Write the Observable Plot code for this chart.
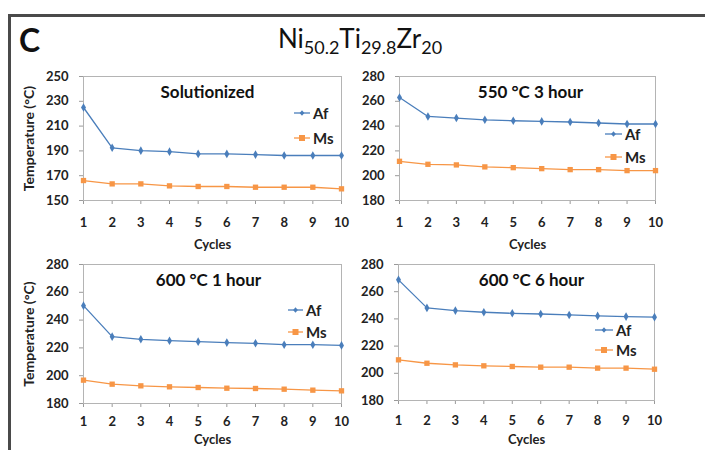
<!DOCTYPE html>
<html>
<head>
<meta charset="utf-8">
<script src="https://cdn.jsdelivr.net/npm/d3@7"></script>
<script src="https://cdn.jsdelivr.net/npm/@observablehq/plot@0.6"></script>
<style>
  html, body { margin: 0; padding: 0; background: #fff; }
  #page { position: relative; width: 705px; height: 450px; overflow: hidden; background: #fff; font-family: Lato, "Open Sans", sans-serif; }
  .border { position: absolute; left: 8px; top: 14px; width: 720px; height: 460px; border-left: 3px solid #4a4a4a; border-top: 3px solid #4a4a4a; }
  .letter { position: absolute; left: 19px; top: 20px; font-size: 32px; font-weight: bold; color: #111; }
  .title { position: absolute; left: 0; width: 720px; top: 22px; text-align: center; font-size: 26px; color: #111; font-family: Lato, sans-serif; }
  .title sub { font-size: 18px; vertical-align: -6px; line-height: 0; }
  .panel { position: absolute; }
  .legend { position: absolute; font-size: 15px; font-weight: bold; color: #222; display: flex; align-items: center; line-height: 1; }
  .legend svg { margin-right: 3px; }
  svg [aria-label="x-axis tick"] path, svg [aria-label="y-axis tick"] path,
  svg [aria-label="x-axis"] .tick line, svg [aria-label="y-axis"] .tick line { stroke: #9a9a9a; }
  svg [aria-label="y-axis label"] text { font-size: 14px; }
</style>
</head>
<body>
<div id="page">
  <div class="border"></div>
  <div class="letter">C</div>
  <div class="title">Ni<sub>50.2</sub>Ti<sub>29.8</sub>Zr<sub>20</sub></div>
</div>
<script>
const cycles = [1, 2, 3, 4, 5, 6, 7, 8, 9, 10];
const seriesNames = ["Af", "Ms"];
const seriesColors = ["#4a7ebb", "#f79646"];

const solutionizedAf = [225, 192.5, 190.2, 189.4, 187.6, 187.6, 187.0, 186.3, 186.3, 186.3];
const solutionizedMs = [166.1, 163.4, 163.4, 161.8, 161.3, 161.3, 160.7, 160.7, 160.7, 159.4];
const h550_3Af = [263.1, 247.8, 246.5, 245.1, 244.3, 243.8, 243.3, 242.5, 241.7, 241.7];
const h550_3Ms = [211.6, 209.2, 208.7, 207.1, 206.5, 205.7, 204.9, 204.9, 204.1, 204.1];
const h600_1Af = [250.4, 228.1, 226.2, 225.2, 224.5, 223.8, 223.3, 222.3, 222.3, 221.8];
const h600_1Ms = [196.8, 193.9, 192.7, 192.0, 191.5, 191.0, 190.8, 190.3, 189.6, 189.1];
const h600_6Af = [268.7, 248.1, 246.1, 244.9, 244.1, 243.6, 242.9, 242.2, 241.7, 241.3];
const h600_6Ms = [209.9, 207.4, 206.2, 205.5, 205.0, 204.5, 204.5, 203.8, 203.8, 203.0];

const panelTitles = ["Solutionized", "550 °C 3 hour", "600 °C 1 hour", "600 °C 6 hour"];
const yTicksTop = [150, 170, 190, 210, 230, 250];
const yTicksOther = [180, 200, 220, 240, 260, 280];
const xLabel = "Cycles";
const yLabel = "Temperature (°C)";

const page = document.getElementById("page");

function makePanel(cfg) {
  const data = cycles.map((c, i) => ({c, af: cfg.af[i], ms: cfg.ms[i]}));
  const plot = Plot.plot({
    width: cfg.width,
    height: cfg.height,
    marginLeft: cfg.ml,
    marginRight: cfg.mr,
    marginTop: cfg.mt,
    marginBottom: cfg.mb,
    style: {fontFamily: "Lato, 'Open Sans', sans-serif", fontSize: "13px", fontWeight: "bold", color: "#222", background: "transparent", overflow: "visible"},
    x: {domain: [1, 10], ticks: cycles, tickFormat: d => d, tickSize: 4, tickPadding: cfg.xPad, label: xLabel, labelArrow: "none", labelAnchor: "center", labelOffset: cfg.xLabelOffset},
    y: {domain: cfg.yDomain, ticks: cfg.yTicks, tickSize: 4, tickPadding: 11, label: cfg.showYLabel ? yLabel : null, labelArrow: "none", labelAnchor: "center", labelOffset: 59},
    marks: [
      Plot.frame({stroke: "#b4b4b4"}),
      Plot.line(data, {x: "c", y: "ms", stroke: seriesColors[1], strokeWidth: 1.3}),
      Plot.dot(data, {x: "c", y: "ms", symbol: "square", r: 3, fill: seriesColors[1], stroke: null}),
      Plot.line(data, {x: "c", y: "af", stroke: seriesColors[0], strokeWidth: 1.3}),
      Plot.dot(data, {x: "c", y: "af", symbol: "diamond", r: 2.6, fill: seriesColors[0], stroke: null}),
      Plot.text([cfg.title], {text: d => d, frameAnchor: "top", dx: cfg.tdx, dy: 16, lineAnchor: "middle", fontSize: 17, fontWeight: "bold", fill: "#111"})
    ]
  });
  plot.style.overflow = "visible";
  const div = document.createElement("div");
  div.className = "panel";
  div.style.left = cfg.left + "px";
  div.style.top = cfg.top + "px";
  div.appendChild(plot);
  page.appendChild(div);

  // legend
  cfg.legend.forEach((lg, i) => {
    const el = document.createElement("div");
    el.className = "legend";
    el.style.left = lg[0] + "px";
    el.style.top = (lg[1] - 8) + "px";
    el.style.height = "16px";
    const w = lg[2], cx = w / 2;
    const marker = i === 0
      ? `<path d="M${cx},5.2 L${cx + 2.4},8 L${cx},10.8 L${cx - 2.4},8 Z" fill="${seriesColors[0]}"/>`
      : `<rect x="${cx - 3}" y="5" width="6" height="6" fill="${seriesColors[1]}"/>`;
    el.innerHTML = `<svg width="${w}" height="16"><line x1="0" x2="${w}" y1="8" y2="8" stroke="${seriesColors[i]}" stroke-width="1.3"/>${marker}</svg><span>${seriesNames[i]}</span>`;
    page.appendChild(el);
  });
}

makePanel({af: solutionizedAf, ms: solutionizedMs, yDomain: [150, 250], yTicks: yTicksTop, title: panelTitles[0],
  left: 0, top: 60, width: 350, height: 195, ml: 83, mr: 9, mt: 16, mb: 55, xPad: 13, xLabelOffset: 48, showYLabel: true, tdx: -5,
  legend: [[294, 113, 16], [294, 138, 16]]});
makePanel({af: h550_3Af, ms: h550_3Ms, yDomain: [180, 280], yTicks: yTicksOther, title: panelTitles[1],
  left: 350, top: 60, width: 355, height: 195, ml: 49, mr: 50, mt: 16, mb: 55, xPad: 13, xLabelOffset: 48, showYLabel: false, tdx: 3,
  legend: [[605, 134, 17], [605, 157, 17]]});
makePanel({af: h600_1Af, ms: h600_1Ms, yDomain: [180, 280], yTicks: yTicksOther, title: panelTitles[2],
  left: 0, top: 250, width: 350, height: 195, ml: 83, mr: 9, mt: 14, mb: 42, xPad: 9, xLabelOffset: 40, showYLabel: true, tdx: -4,
  legend: [[288, 310, 15], [288, 332, 15]]});
makePanel({af: h600_6Af, ms: h600_6Ms, yDomain: [180, 280], yTicks: yTicksOther, title: panelTitles[3],
  left: 350, top: 250, width: 355, height: 195, ml: 48, mr: 51, mt: 14, mb: 45, xPad: 11, xLabelOffset: 43, showYLabel: false, tdx: 5,
  legend: [[595, 330, 18], [595, 350, 18]]});
</script>
</body>
</html>
